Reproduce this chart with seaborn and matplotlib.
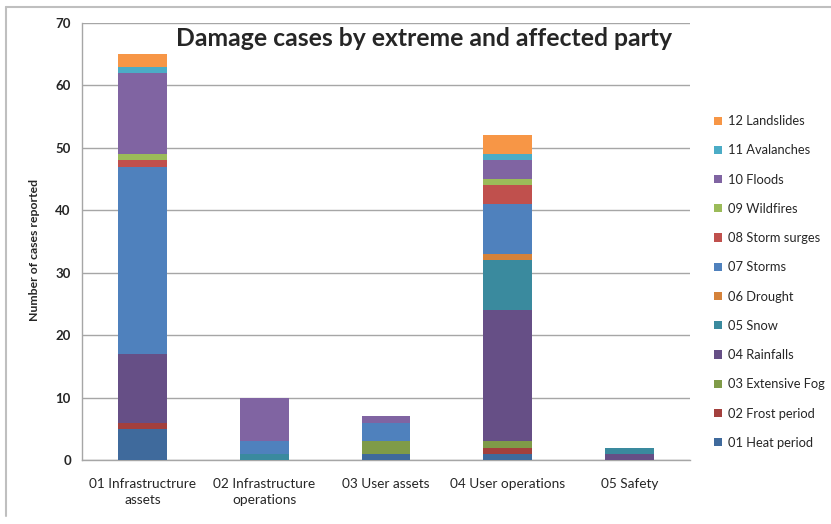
import numpy as np
import pandas as pd
import matplotlib
matplotlib.use("Agg")
import matplotlib.pyplot as plt
from matplotlib.patches import Patch
from matplotlib.lines import Line2D
import seaborn as sns

categories = ["01 Infrastructrure\nassets", "02 Infrastructure\noperations",
              "03 User assets", "04 User operations", "05 Safety"]
series_names = ["01 Heat period", "02 Frost period", "03 Extensive Fog", "04 Rainfalls",
                "05 Snow", "06 Drought", "07 Storms", "08 Storm surges", "09 Wildfires",
                "10 Floods", "11 Avalanches", "12 Landslides"]
heat       = [5, 0, 1, 1, 0]
frost      = [1, 0, 0, 1, 0]
fog        = [0, 0, 2, 1, 0]
rainfalls  = [11, 0, 0, 21, 1]
snow       = [0, 1, 0, 8, 1]
drought    = [0, 0, 0, 1, 0]
storms     = [30, 2, 3, 8, 0]
surges     = [1, 0, 0, 3, 0]
wildfires  = [1, 0, 0, 1, 0]
floods     = [13, 7, 1, 3, 0]
avalanches = [1, 0, 0, 1, 0]
landslides = [2, 0, 0, 3, 0]
yticks = [0, 10, 20, 30, 40, 50, 60, 70]

colors = ["#3F6A9C", "#A3403D", "#7F9B48", "#664F86", "#3A8A9E", "#D5823A",
          "#4F81BD", "#C0504D", "#9BBB59", "#8064A2", "#4BACC6", "#F79646"]

all_series = [heat, frost, fog, rainfalls, snow, drought, storms, surges,
              wildfires, floods, avalanches, landslides]
cum = np.cumsum(np.array(all_series, dtype=float), axis=0)

sns.set_style("white")
plt.rcParams["font.family"] = ["Lato", "DejaVu Sans"]

fig = plt.figure(figsize=(8.31, 5.24), dpi=100)
W, H = 831, 524
ax = fig.add_axes([82 / W, (H - 460) / H, (690 - 82) / W, (460 - 23) / H])

for i in range(len(all_series) - 1, -1, -1):
    df = pd.DataFrame({"category": categories, "value": cum[i]})
    sns.barplot(data=df, x="category", y="value", order=categories, color=colors[i],
                width=0.4, saturation=1, ax=ax, zorder=3, linewidth=0)

ax.set_ylim(0, 70)
ax.set_xlim(-0.5, 4.5)
ax.set_yticks(yticks)
ax.set_yticklabels([str(t) for t in yticks], fontweight="bold", fontsize=9.5)
ax.yaxis.grid(True, color="#A6A6A6", linewidth=1, zorder=0)
ax.set_axisbelow(True)
ax.set_xlabel("")
ax.set_ylabel("")
fig.text(35 / W, 1 - 250 / H, "Number of cases reported", rotation=90, ha="center",
         va="center", fontsize=8.8, fontweight="bold")
for s in ["top", "right"]:
    ax.spines[s].set_visible(False)
for s in ["left", "bottom"]:
    ax.spines[s].set_color("#A6A6A6")
    ax.spines[s].set_linewidth(1)
ax.tick_params(axis="y", length=5, color="#A6A6A6", direction="out", pad=3)
# category ticks at boundaries
ax.set_xticks(np.arange(5))
ax.set_xticklabels(categories, fontsize=9.8, linespacing=1.35)
ax.tick_params(axis="x", length=0, pad=13)
ax.set_xticks(np.arange(-0.5, 5.0, 1.0), minor=True)
ax.tick_params(axis="x", which="minor", length=5, color="#A6A6A6", direction="out")

fig.text(424 / W, 1 - 38 / H, "Damage cases by extreme and affected party",
         ha="center", va="center", fontsize=17.8, fontweight="bold", zorder=5)

handles = [Patch(facecolor=colors[i], edgecolor="none", label=series_names[i])
           for i in range(len(series_names) - 1, -1, -1)]
fig.legend(handles=handles, loc="upper left", bbox_to_anchor=(709 / W, 1 - 110 / H),
           frameon=False, fontsize=9.3, handlelength=0.6, handleheight=0.6,
           handletextpad=0.5, labelspacing=1.335, borderaxespad=0)

# outer chart border (top and left visible)
fig.add_artist(Line2D([6 / W, 1.0], [1 - 7 / H, 1 - 7 / H], color="#BFBFBF", linewidth=1.5,
                      transform=fig.transFigure))
fig.add_artist(Line2D([6 / W, 6 / W], [1 - 7 / H, 1 - 516 / H], color="#BFBFBF", linewidth=1.5,
                      transform=fig.transFigure))

fig.savefig("out.png", dpi=100)
